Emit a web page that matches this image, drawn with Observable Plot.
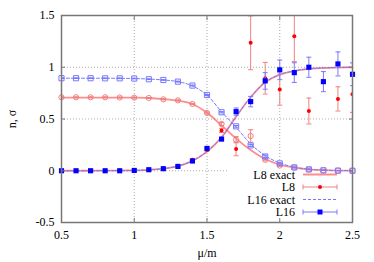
<!DOCTYPE html>
<html><head><meta charset="utf-8">
<script src="https://cdn.jsdelivr.net/npm/d3@7"></script>
<script src="https://cdn.jsdelivr.net/npm/@observablehq/plot@0.6"></script>
<style>
body{margin:0;background:#fff}
svg, svg text{font-family:"Liberation Serif","Times New Roman","DejaVu Serif",serif !important}
</style>
</head><body><div id="chart"></div>
<script>
// ---- data ----
const mu = [0.5,0.6,0.7,0.8,0.9,1.0,1.1,1.2,1.3,1.4,1.5,1.6,1.7,1.8,1.9,2.0,2.1,2.2,2.3,2.4,2.5];

const nExact   = [0,0,0,0.001,0.002,0.004,0.009,0.02,0.045,0.095,0.185,0.323,0.523,0.71,0.855,0.929,0.965,0.985,0.993,0.997,1.0];
const sig8Exact  = [0.707,0.707,0.707,0.707,0.707,0.706,0.703,0.693,0.678,0.645,0.56,0.438,0.31,0.2,0.113,0.058,0.03,0.014,0.006,0.002,0.001];
const sig16Exact = [0.894,0.894,0.894,0.894,0.893,0.891,0.886,0.877,0.861,0.82,0.73,0.57,0.42,0.26,0.145,0.075,0.035,0.015,0.006,0.002,0.001];

const n8     = [0,0,0,0,0,0.003,0.01,0.02,0.042,0.106,0.2,0.39,0.21,1.236,0.894,0.784,1.3,0.577,null,0.694,0.739];
const n8Err  = [0,0,0,0,0,0.002,0.003,0.004,0.006,0.01,0.012,0.02,0.065,0.26,0.153,0.15,0.245,0.125,null,0.117,0.175];
const s8     = [0.71,0.71,0.71,0.71,0.708,0.706,0.703,0.69,0.68,0.645,0.558,0.452,0.3,0.336,0.106,0.05,0.032,0.013,0.005,0.002,0.001];
const s8Err  = [0.004,0.004,0.004,0.004,0.004,0.004,0.004,0.005,0.005,0.006,0.008,0.015,0.03,0.06,0.01,0.006,0.004,0.003,0.002,0.001,0.001];

const n16    = [0,0,0,0,0,0.003,0.01,0.02,0.042,0.094,0.216,0.306,0.571,0.668,0.868,0.975,0.948,1.0,0.861,1.032,0.932];
const n16Err = [0,0,0,0,0,0.002,0.003,0.004,0.006,0.008,0.01,0.012,0.035,0.05,0.08,0.095,0.095,0.097,0.097,0.116,0.11];
const s16    = [0.894,0.894,0.894,0.893,0.893,0.891,0.884,0.877,0.861,0.823,0.732,0.565,0.429,0.245,0.138,0.071,0.032,0.013,0.004,0.001,0.0];
const s16Err = [0.003,0.003,0.003,0.003,0.003,0.003,0.003,0.003,0.004,0.004,0.005,0.006,0.008,0.01,0.012,0.006,0.004,0.003,0.002,0.001,0.001];

const xTicks = [0.5,1,1.5,2,2.5];
const yTicks = [-0.5,0,0.5,1,1.5];
const xGrid = [1,1.5,2];
const yGrid = [0,0.5,1];
const legendLabels = ["L8 exact","L8","L16 exact","L16"];

// ---- helpers ----
const FONT = '"Liberation Serif","Times New Roman","DejaVu Serif",serif';
const rows = (vals, errs) => mu.map((x,i)=>({x, v: vals[i], e: errs ? errs[i] : 0})).filter(d => d.v != null);
const cap = {draw(ctx, size){ const r = Math.sqrt(size/Math.PI); ctx.moveTo(-r,0); ctx.lineTo(r,0); }};
const RED = "#ff0000", BLUE = "#0000ff";
const RED_L = "#f08080", BLUE_L = "#7878ff";

function errBars(data, color) {
  return [
    Plot.ruleX(data, {x:"x", y1: d=>d.v-d.e, y2: d=>d.v+d.e, stroke: color, strokeWidth: 1, clip: true}),
    Plot.dot(data, {x:"x", y: d=>d.v-d.e, symbol: cap, r: 2.5, fill:"none", stroke: color, strokeWidth: 1, clip: true}),
    Plot.dot(data, {x:"x", y: d=>d.v+d.e, symbol: cap, r: 2.5, fill:"none", stroke: color, strokeWidth: 1, clip: true})
  ];
}

const N8 = rows(n8, n8Err), S8 = rows(s8, s8Err), N16 = rows(n16, n16Err), S16 = rows(s16, s16Err);
const NEx = rows(nExact), S8Ex = rows(sig8Exact), S16Ex = rows(sig16Exact);

const chart = Plot.plot({
  width: 374, height: 262,
  marginLeft: 61, marginRight: 22, marginTop: 15, marginBottom: 40,
  x: {domain: [0.5, 2.5]},
  y: {domain: [-0.5, 1.5]},
  style: {fontFamily: FONT, fontSize: "12px", color: "#000", background: "#fff"},
  marks: [
    Plot.gridX(xGrid, {stroke: "#aaa", strokeOpacity: 1, strokeDasharray: "1,2"}),
    Plot.gridY(yGrid, {stroke: "#aaa", strokeOpacity: 1, strokeDasharray: "1,2"}),
    // exact curves
    Plot.line(NEx,  {x:"x", y:"v", stroke: RED, strokeOpacity: 0.45, strokeWidth: 1.8, curve: "catmull-rom"}),
    Plot.line(S8Ex, {x:"x", y:"v", stroke: RED, strokeOpacity: 0.45, strokeWidth: 1.8, curve: "catmull-rom"}),
    Plot.line(NEx,  {x:"x", y:"v", stroke: BLUE_L, strokeWidth: 1, strokeDasharray: "3,2", curve: "catmull-rom"}),
    Plot.line(S16Ex,{x:"x", y:"v", stroke: BLUE_L, strokeWidth: 1, strokeDasharray: "3,2", curve: "catmull-rom"}),
    // sigma data (open markers)
    ...errBars(S8, RED_L),
    Plot.dot(S8, {x:"x", y:"v", r: 2.6, fill: "none", stroke: RED_L, strokeWidth: 1}),
    ...errBars(S16, BLUE_L),
    Plot.dot(S16, {x:"x", y:"v", symbol: "square", r: 2.9, fill: "none", stroke: BLUE_L, strokeWidth: 1}),
    // n data (filled markers)
    ...errBars(N8, RED_L),
    Plot.dot(N8, {x:"x", y:"v", r: 2, fill: RED, stroke: "none", clip: true}),
    ...errBars(N16, BLUE_L),
    Plot.dot(N16, {x:"x", y:"v", symbol: "square", r: 2.9, fill: BLUE, stroke: "none"}),
    // frame and axes
    Plot.frame({stroke: "#777", strokeWidth: 1.5}),
    Plot.axisX(xTicks, {anchor: "bottom", tickSize: 0, tickPadding: 8, label: null, fontFamily: FONT, fontSize: 12, tickFormat: d => String(d)}),
    Plot.axisX(xTicks, {anchor: "bottom", tickSize: 4, dy: -4, label: null, tickFormat: () => "", stroke: "#777"}),
    Plot.axisX(xTicks, {anchor: "top", tickSize: 4, dy: 4, label: null, tickFormat: () => "", stroke: "#777"}),
    Plot.axisY(yTicks, {anchor: "left", tickSize: 0, tickPadding: 7, label: null, fontFamily: FONT, fontSize: 12, tickFormat: d => String(d)}),
    Plot.axisY(yTicks, {anchor: "left", tickSize: 4, dx: 4, label: null, tickFormat: () => "", stroke: "#777"}),
    Plot.axisY(yTicks, {anchor: "right", tickSize: 4, dx: -4, label: null, tickFormat: () => "", stroke: "#777"}),
    Plot.text(["μ/m"], {frameAnchor: "bottom", dy: 31, lineAnchor: "middle", fontFamily: FONT, fontSize: 12}),
    Plot.text(["n, σ"], {frameAnchor: "left", dx: -49, rotate: -90, lineAnchor: "middle", textAnchor: "middle", fontFamily: FONT, fontSize: 12})
  ]
});
document.getElementById("chart").appendChild(chart);

// ---- legend (inside plot, bottom-right) ----
const svg = d3.select(chart);
const fx = chart.scale("x").range, fy = chart.scale("y").range;
const right = Math.max(...fx), bottom = Math.max(...fy);
const firstLine = chart.querySelector('g[aria-label="line"]');
d3.select(firstLine.parentNode).insert("rect", () => firstLine)
  .attr("x", right - 124).attr("y", bottom - 56).attr("width", 123).attr("height", 55).attr("fill", "#fff");

const lg = svg.append("g");
const rowY = i => bottom - 47.5 + i * 12.5;
const tx = right - 57, l1 = right - 49, l2 = right - 15, lm = (l1 + l2) / 2;
legendLabels.forEach((lab, i) => {
  lg.append("text").attr("x", tx).attr("y", rowY(i)).attr("dy", "0.35em").attr("text-anchor", "end")
    .attr("font-size", 12).attr("font-family", FONT).attr("fill", "#000").text(lab);
});
// L8 exact
lg.append("line").attr("x1", l1).attr("x2", l2).attr("y1", rowY(0)).attr("y2", rowY(0))
  .attr("stroke", RED).attr("stroke-opacity", 0.45).attr("stroke-width", 1.8);
// L8 / L16 error-bar samples
[[rowY(1), RED_L, RED, "circle"], [rowY(3), BLUE_L, BLUE, "square"]].forEach(([y, lc, pc, s]) => {
  lg.append("line").attr("x1", l1).attr("x2", l2).attr("y1", y).attr("y2", y).attr("stroke", lc);
  lg.append("line").attr("x1", l1).attr("x2", l1).attr("y1", y - 2.5).attr("y2", y + 2.5).attr("stroke", lc);
  lg.append("line").attr("x1", l2).attr("x2", l2).attr("y1", y - 2.5).attr("y2", y + 2.5).attr("stroke", lc);
  if (s === "circle") lg.append("circle").attr("cx", lm).attr("cy", y).attr("r", 2).attr("fill", pc);
  else lg.append("rect").attr("x", lm - 2.5).attr("y", y - 2.5).attr("width", 5).attr("height", 5).attr("fill", pc);
});
// L16 exact
lg.append("line").attr("x1", l1).attr("x2", l2).attr("y1", rowY(2)).attr("y2", rowY(2))
  .attr("stroke", BLUE_L).attr("stroke-dasharray", "3,2");
</script>
</body></html>
